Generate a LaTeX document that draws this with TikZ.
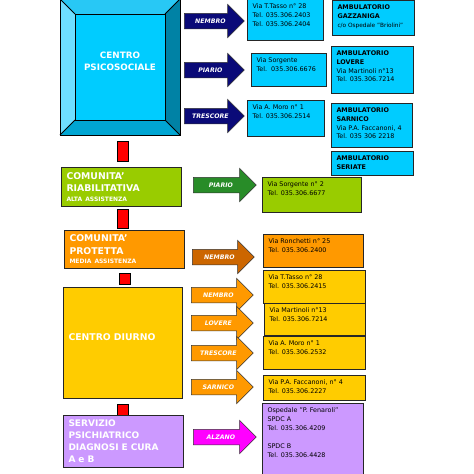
\documentclass[tikz,border=0pt]{standalone}
\usepackage{fontspec}
\setmainfont{DejaVu Sans}
\usepackage{xcolor}
\usepackage{tikz}
\usetikzlibrary{shapes,arrows,positioning,calc}

\definecolor{cpsface}{RGB}{0,204,255}
\definecolor{cpstop}{RGB}{40,200,245}
\definecolor{cpsleft}{RGB}{110,222,255}
\definecolor{cpsright}{RGB}{0,130,165}
\definecolor{cpsbottom}{RGB}{0,165,210}
\definecolor{crgreen}{RGB}{153,204,0}
\definecolor{piariogreen}{RGB}{40,140,40}
\definecolor{cporange}{RGB}{255,153,0}
\definecolor{cpbrown}{RGB}{204,102,0}
\definecolor{cdgold}{RGB}{255,204,0}
\definecolor{spdclilac}{RGB}{204,153,255}
\definecolor{alzmagenta}{RGB}{255,0,255}
\definecolor{navyarrow}{RGB}{10,10,120}
\definecolor{linkred}{RGB}{255,0,0}

\newcommand{\toptext}[3]{\parbox[t][#2][t]{#1}{\raggedright\vspace*{1.5pt}#3}}

\tikzset{
    unit/.style={draw=black!85, line width=1pt, anchor=north west, text=white,
        font=\fontsize{9.3}{12.5}\selectfont\bfseries, align=left, inner xsep=5pt},
    addr/.style={draw=black!85, line width=1pt, anchor=north west, inner xsep=5pt,
        inner ysep=3pt, font=\fontsize{6.4}{8.7}\selectfont},
    dirarrow/.style={single arrow, draw=black!80, line width=0.5pt, anchor=tail,
        minimum width=33pt, single arrow head extend=9pt, inner xsep=2pt,
        inner ysep=5pt, text height=4.5pt, text depth=0.5pt, text=white,
        font=\fontsize{6.2}{7}\selectfont\bfseries\itshape},
    link/.style={draw=black, line width=0.8pt, fill=linkred, minimum width=11pt,
        inner sep=0pt}
}

\begin{document}
\begin{tikzpicture}[x=1pt,y=-1pt]
        \useasboundingbox (0,0) rectangle (474,474);
        % centro psicosociale (bevelled block)
        \fill[cpsface] (75,14) rectangle (165,120);
        \fill[cpstop] (60,-1) -- (180,-1) -- (165,14) -- (75,14) -- cycle;
        \fill[cpsleft] (60,-1) -- (75,14) -- (75,120) -- (60,135) -- cycle;
        \fill[cpsright] (180,-1) -- (180,135) -- (165,120) -- (165,14) -- cycle;
        \fill[cpsbottom] (60,135) -- (180,135) -- (165,120) -- (75,120) -- cycle;
        \draw[line width=0.8pt] (60,-1) rectangle (180,135);
        \draw[line width=0.8pt] (75,14) rectangle (165,120);
        \draw[line width=0.8pt] (60,-1) -- (75,14) (180,-1) -- (165,14)
            (60,135) -- (75,120) (180,135) -- (165,120);
        \node[text=white, align=center, font=\fontsize{8.8}{12}\selectfont\bfseries] (cps) at (120,61) {CENTRO\\PSICOSOCIALE};

        \node[dirarrow, fill=navyarrow, minimum height=60pt] (cpsnembro) at (184,21) {NEMBRO};
        \node[dirarrow, fill=navyarrow, minimum height=60pt] (cpspiario) at (184,70) {PIARIO};
        \node[dirarrow, fill=navyarrow, minimum height=60pt] (cpstrescore) at (184,116) {TRESCORE};

        \node[addr, fill=cpsface] (cpsnembroaddr) at (247,-1) {\toptext{66pt}{35pt}{Via T.Tasso n° 28\\Tel. 035.306.2403\\Tel. 035.306.2404}};
        \node[addr, fill=cpsface] (cpspiarioaddr) at (251,53) {\toptext{65pt}{27pt}{Via Sorgente\\Tel.\ \ 035.306.6676}};
        \node[addr, fill=cpsface] (cpstrescoreaddr) at (247,100) {\toptext{67pt}{30pt}{Via A. Moro n° 1\\Tel. 035.306.2514}};

        \node[addr, fill=cpsface] (ambgazzaniga) at (332,0) {\toptext{72pt}{29pt}{{\bfseries AMBULATORIO\\GAZZANIGA}\\{\fontsize{5.8}{8}\selectfont c/o Ospedale "Briolini"}}};
        \node[addr, fill=cpsface] (amblovere) at (331,46) {\toptext{72pt}{41pt}{{\bfseries AMBULATORIO\\LOVERE}\\Via Martinoli n°13\\Tel. 035.306.7214}};
        \node[addr, fill=cpsface] (ambsarnico) at (331,103) {\toptext{71pt}{38pt}{{\bfseries AMBULATORIO\\SARNICO}\\Via P.A. Faccanoni, 4\\Tel. 035 306 2218}};
        \node[addr, fill=cpsface] (ambseriate) at (331,151) {\toptext{72pt}{18pt}{\bfseries AMBULATORIO\\SERIATE}};

        \node[link, minimum height=20pt] (l1) at (122.5,151) {};

        % comunita' riabilitativa
        \node[unit, fill=crgreen, text width=110pt, minimum height=39pt] (cra) at (61,167)
            {COMUNITA'\\RIABILITATIVA\\[-3pt]{\fontsize{6}{7}\selectfont ALTA ASSISTENZA}};
        \node[dirarrow, fill=piariogreen, minimum height=63pt] (crapiario) at (193,185) {PIARIO};
        \node[addr, fill=crgreen] (crapiarioaddr) at (262,177) {\toptext{89pt}{29pt}{Via Sorgente n° 2\\Tel. 035.306.6677}};

        \node[link, minimum height=19pt] (l2) at (122.5,218.5) {};

        % comunita' protetta
        \node[unit, fill=cporange, text width=110pt, minimum height=38pt] (cpr) at (64,230)
            {COMUNITA'\\PROTETTA\\[-3pt]{\fontsize{6}{7}\selectfont MEDIA ASSISTENZA}};
        \node[dirarrow, fill=cpbrown, minimum height=62pt] (cprnembro) at (192,257) {NEMBRO};
        \node[addr, fill=cporange] (cprnembroaddr) at (263,234) {\toptext{90pt}{27pt}{Via Ronchetti n° 25\\Tel. 035.306.2400}};

        \node[link, minimum height=11pt] (l3) at (124.5,278.5) {};

        % centro diurno
        \node[unit, fill=cdgold, text width=109pt, minimum height=111pt, text depth=12pt] (cd) at (63,287) {CENTRO DIURNO};
        \node[dirarrow, fill=cporange, minimum height=62pt] (cdnembro) at (191,295) {NEMBRO};
        \node[dirarrow, fill=cporange, minimum height=62pt] (cdlovere) at (191,323) {LOVERE};
        \node[dirarrow, fill=cporange, minimum height=62pt] (cdtrescore) at (191,353) {TRESCORE};
        \node[dirarrow, fill=cporange, minimum height=62pt] (cdsarnico) at (191,387) {SARNICO};
        \node[addr, fill=cdgold] (cdnembroaddr) at (263,270) {\toptext{92pt}{27pt}{Via T.Tasso n° 28\\Tel. 035.306.2415}};
        \node[addr, fill=cdgold] (cdlovereaddr) at (264,303) {\toptext{91pt}{26pt}{Via Martinoli n°13\\Tel. 035.306.7214}};
        \node[addr, fill=cdgold] (cdtrescoreaddr) at (263,336) {\toptext{92pt}{27pt}{Via A. Moro n° 1\\Tel. 035.306.2532}};
        \node[addr, fill=cdgold] (cdsarnicoaddr) at (263,375) {\toptext{92pt}{19pt}{Via P.A. Faccanoni, n° 4\\Tel. 035.306.2227}};

        \node[link, minimum height=11pt] (l4) at (123,409.5) {};

        % servizio psichiatrico
        \node[unit, fill=spdclilac, text width=110pt, minimum height=52pt, font=\fontsize{9}{12}\selectfont\bfseries] (spdc) at (63,415)
            {SERVIZIO\\PSICHIATRICO\\DIAGNOSI E CURA\\A e B};
        \node[dirarrow, fill=alzmagenta, minimum height=63pt] (spdcalzano) at (193,437) {ALZANO};
        \node[addr, fill=spdclilac] (spdcalzanoaddr) at (262,403) {\toptext{91pt}{69pt}{Ospedale "P. Fenaroli"\\SPDC A\\Tel. 035.306.4209\\[10pt]SPDC B\\Tel. 035.306.4428}};
    \end{tikzpicture}
\end{document}
